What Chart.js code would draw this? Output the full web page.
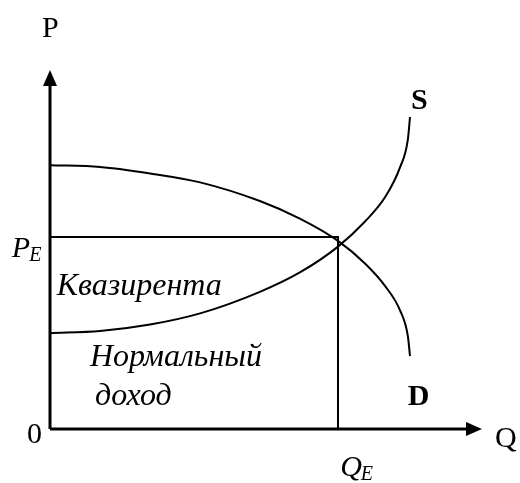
<!DOCTYPE html>
<html>
<head>
<meta charset="utf-8">
<script src="https://cdn.jsdelivr.net/npm/chart.js@4.4.1/dist/chart.umd.min.js"></script>
<style>
  body { margin: 0; background: #fff; }
</style>
</head>
<body>
<canvas id="graf" width="520" height="483"></canvas>
<script>
// Оси: Q по горизонтали, P по вертикали
const qMax = 12
const pMax = 10

// Кривая спроса D (Q, P)
const demandQ = [0, 1.39, 2.78, 4.17, 5.83, 6.94, 8.0, 8.75, 9.31, 9.72, 9.94, 10.0]
const demandP = [7.35, 7.30, 7.12, 6.87, 6.35, 5.86, 5.24, 4.61, 3.98, 3.31, 2.59, 2.03]

// Кривая предложения S (Q, P)
const supplyQ = [0, 1.39, 2.78, 4.17, 5.83, 6.94, 8.0, 8.75, 9.31, 9.72, 9.94, 10.0]
const supplyP = [2.67, 2.73, 2.91, 3.22, 3.82, 4.36, 5.08, 5.78, 6.46, 7.28, 8.06, 8.69]

// Равновесие
const qE = 8.0
const pE = 5.35

const toPoints = (xs, ys) => xs.map((x, i) => ({ x: x, y: ys[i] }))

// Подписи на графике
const labels = [
    { text: "P", q: -0.22, p: 10.92, font: "30px 'Liberation Serif'" },
    { text: "Q", q: 12.36, p: -0.5, font: "30px 'Liberation Serif'" },
    { text: "0", q: -0.64, p: -0.39, font: "30px 'Liberation Serif'" },
    { text: "S", q: 10.03, p: 8.91, font: "bold 30px 'Liberation Serif'" },
    { text: "D", q: 9.94, p: 0.67, font: "bold 30px 'Liberation Serif'" },
    { text: "Квазирента", q: 0.19, p: 3.73, font: "italic 32px 'Liberation Serif'" },
    { text: "Нормальный", q: 1.11, p: 1.75, font: "italic 32px 'Liberation Serif'" },
    { text: "доход", q: 1.25, p: 0.67, font: "italic 32px 'Liberation Serif'" },
    { text: "P", sub: "E", q: -1.06, p: 4.79, font: "italic 30px 'Liberation Serif'" },
    { text: "Q", sub: "E", q: 8.06, p: -1.31, font: "italic 30px 'Liberation Serif'" }
]

const lineDs = (data, width) => ({
    data: data,
    showLine: true,
    borderColor: '#000',
    borderWidth: width,
    pointRadius: 0,
    cubicInterpolationMode: 'monotone',
    clip: false
})

// Стрелки осей и текст
const textPlugin = {
    id: 'textPlugin',
    afterDatasetsDraw(chart) {
        const ctx = chart.ctx
        const sx = chart.scales.x
        const sy = chart.scales.y
        ctx.save()
        ctx.fillStyle = '#000'

        // стрелка оси P
        let tx = sx.getPixelForValue(0)
        let ty = sy.getPixelForValue(pMax)
        ctx.beginPath()
        ctx.moveTo(tx, ty)
        ctx.lineTo(tx - 7, ty + 16)
        ctx.lineTo(tx + 7, ty + 16)
        ctx.closePath()
        ctx.fill()

        // стрелка оси Q
        tx = sx.getPixelForValue(qMax)
        ty = sy.getPixelForValue(0)
        ctx.beginPath()
        ctx.moveTo(tx, ty)
        ctx.lineTo(tx - 16, ty - 7)
        ctx.lineTo(tx - 16, ty + 7)
        ctx.closePath()
        ctx.fill()

        ctx.textBaseline = 'alphabetic'
        ctx.textAlign = 'left'
        labels.forEach(l => {
            const x = sx.getPixelForValue(l.q)
            const y = sy.getPixelForValue(l.p)
            ctx.font = l.font
            ctx.fillText(l.text, x, y)
            if (l.sub) {
                const w = ctx.measureText(l.text).width
                ctx.font = "italic 20px 'Liberation Serif'"
                ctx.fillText(l.sub, x + w - 1, y + 4)
            }
        })
        ctx.restore()
    }
}

new Chart(document.getElementById('graf'), {
    type: 'scatter',
    data: {
        datasets: [
            lineDs([{ x: 0, y: 0 }, { x: 0, y: pMax - 0.3 }], 3),
            lineDs([{ x: 0, y: 0 }, { x: qMax - 0.3, y: 0 }], 3),
            lineDs([{ x: 0, y: pE }, { x: qE, y: pE }, { x: qE, y: 0 }], 2),
            lineDs(toPoints(demandQ, demandP), 2),
            lineDs(toPoints(supplyQ, supplyP), 2)
        ]
    },
    options: {
        responsive: false,
        animation: false,
        layout: { padding: { left: 50, right: 38, top: 70, bottom: 54 } },
        plugins: { legend: { display: false }, tooltip: { enabled: false } },
        scales: {
            x: { type: 'linear', min: 0, max: qMax, display: false },
            y: { type: 'linear', min: 0, max: pMax, display: false }
        }
    },
    plugins: [textPlugin]
});
</script>
</body>
</html>
